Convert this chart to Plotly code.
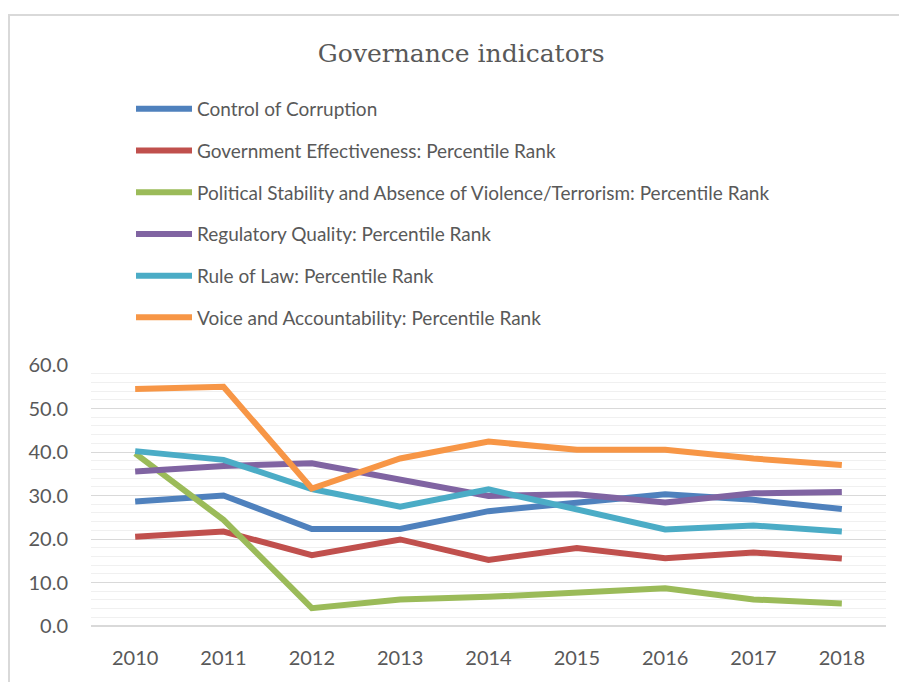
import plotly.graph_objects as go

years = ["2010", "2011", "2012", "2013", "2014", "2015", "2016", "2017", "2018"]

control_of_corruption = [28.6, 30.0, 22.3, 22.3, 26.4, 28.2, 30.3, 29.0, 26.9]
government_effectiveness = [20.5, 21.7, 16.3, 19.9, 15.2, 17.9, 15.6, 16.9, 15.5]
political_stability = [39.7, 24.4, 4.1, 6.1, 6.7, 7.7, 8.7, 6.1, 5.2]
regulatory_quality = [35.5, 36.8, 37.4, 33.6, 29.9, 30.3, 28.4, 30.5, 30.8]
rule_of_law = [40.2, 38.2, 31.5, 27.4, 31.4, 26.7, 22.2, 23.1, 21.7]
voice_accountability = [54.5, 55.0, 31.6, 38.5, 42.4, 40.5, 40.5, 38.5, 37.0]

series_names = [
    "Control of Corruption",
    "Government Effectiveness: Percentile Rank",
    "Political Stability and Absence of Violence/Terrorism: Percentile Rank",
    "Regulatory Quality: Percentile Rank",
    "Rule of Law: Percentile Rank",
    "Voice and Accountability: Percentile Rank",
]
series_values = [control_of_corruption, government_effectiveness, political_stability,
                 regulatory_quality, rule_of_law, voice_accountability]
colors = ["#4f81bd", "#c0504d", "#9bbb59", "#8064a2", "#4bacc6", "#f79646"]

fig = go.Figure()
for name, vals, col in zip(series_names, series_values, colors):
    fig.add_trace(go.Scatter(
        x=years, y=vals, name=name, mode="lines",
        line=dict(color=col, width=6),
        legendgroup=name,
    ))

W, H = 899, 682
L, R, T, B = 91, 13, 365, 56
pw, ph = W - L - R, H - T - B

def px_x(p):
    return (p - L) / pw

def px_y(p):
    return (H - B - p) / ph

fig.update_layout(
    width=W, height=H,
    margin=dict(l=L, r=R, t=T, b=B),
    paper_bgcolor="white", plot_bgcolor="white",
    font=dict(family="Lato, sans-serif", color="#595959"),
    title=dict(text="Governance indicators", x=0.513, xanchor="center",
               y=1 - 53 / H, yanchor="middle",
               font=dict(family="DejaVu Serif, serif", size=25, color="#595959")),
    showlegend=True,
    legend=dict(x=px_x(131), xanchor="left", y=px_y(90), yanchor="top",
                font=dict(size=19, color="#595959"),
                tracegroupgap=14, itemwidth=56,
                bgcolor="rgba(0,0,0,0)"),
    xaxis=dict(type="category", range=[-0.5, 8.5], showgrid=False, showline=False, ticks="",
               tickfont=dict(size=20, color="#595959"), ticklabelstandoff=18),
    yaxis=dict(range=[0, 60], dtick=10, tickformat=".1f",
               showgrid=True, gridcolor="#d9d9d9", gridwidth=1.3,
               zeroline=True, zerolinecolor="#d9d9d9", zerolinewidth=1.5,
               showline=False, ticks="",
               minor=dict(dtick=2, showgrid=True, gridcolor="#f0f0f0", gridwidth=1),
               tickfont=dict(size=20, color="#595959"), ticklabelstandoff=22),
    shapes=[dict(type="rect", xref="paper", yref="paper",
                 x0=px_x(9), x1=px_x(920), y0=px_y(700), y1=px_y(15),
                 line=dict(color="#d9d9d9", width=2), layer="below")],
)

fig.write_html("out.html", config={"displayModeBar": False},
               post_script="document.body.style.margin='0px';")
